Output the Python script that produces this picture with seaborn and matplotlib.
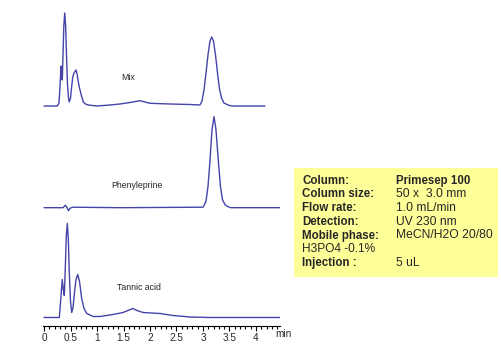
import numpy as np
import pandas as pd
import matplotlib.pyplot as plt
import seaborn as sns

# retention time (min) and detector signal
mix_time = [0.0, 0.251, 0.283, 0.302, 0.321, 0.336, 0.345, 0.358, 0.374, 0.391,
            0.408, 0.425, 0.443, 0.462, 0.477, 0.5, 0.519, 0.542, 0.566, 0.604,
            0.628, 0.647, 0.666, 0.698, 0.742, 0.783, 0.836, 0.994, 1.245, 1.434,
            1.623, 1.811, 1.906, 2.0, 2.377, 2.755, 2.943, 2.981, 3.019, 3.057,
            3.094, 3.132, 3.164, 3.198, 3.236, 3.274, 3.311, 3.349, 3.396, 3.472,
            3.547, 4.17]
mix_signal = [0, 0, 3, 20, 40, 30, 26, 50, 80, 93,
              80, 50, 22, 8, 4, 8, 18, 29, 33, 36,
              31, 24, 19, 12, 4, 2, 1, 0, 1, 2,
              3.5, 5.3, 4, 2.7, 2, 1.5, 1, 5, 16, 33,
              51, 65, 69, 65, 51, 33, 17, 8, 3, 1,
              0, 0]

phen_time = [0.0, 0.358, 0.406, 0.434, 0.462, 0.491, 0.547, 1.434, 3.0, 3.019,
             3.057, 3.094, 3.132, 3.170, 3.208, 3.245, 3.289, 3.330, 3.368, 3.415,
             3.472, 3.528, 4.453]
phen_signal = [0, 0, 2.5, 0, -3, -0.5, 0.5, 0, 0.5, 2,
               6.7, 21, 47, 78, 91, 78, 47, 21, 8, 3,
               1, 0, 0]

tannic_time = [0.0, 0.289, 0.311, 0.345, 0.364, 0.383, 0.402, 0.421, 0.440, 0.459,
               0.477, 0.5, 0.523, 0.547, 0.575, 0.604, 0.636, 0.670, 0.711, 0.755,
               0.806, 0.930, 1.057, 1.302, 1.491, 1.585, 1.674, 1.755, 1.868, 2.189,
               2.434, 2.755, 3.132, 4.453]
tannic_signal = [0, 0, 15, 38, 28, 22, 50, 82, 94, 78,
                 45, 16, 5, 10, 25, 38, 43, 36, 19, 9,
                 4, 1, 1, 3, 5, 7, 9, 7, 5, 4,
                 2, 0.5, 0, 0]

trace_names = ["Mix", "Phenyleprine", "Tannic acid"]
trace_offsets = [220, 118.3, 8.5]
label_pos = [(1.585, 248), (1.755, 140), (1.79, 38)]

tick_labels = ["0", "0.5", "1", "1.5", "2", "2.5", "3", "3.5", "4"]

info_keys = ["Column:", "Column size:", "Flow rate:", "Detection:",
             "Mobile phase:", "H3PO4 -0.1%", "Injection :"]
info_vals = ["Primesep 100", "50 x  3.0 mm", "1.0 mL/min", "UV 230 nm",
             "MeCN/H2O 20/80", "", "5 uL"]


def main():
    sns.set_style("white")
    plt.rcParams['font.family'] = ['Liberation Sans', 'DejaVu Sans']

    W, H = 501, 364
    fig = plt.figure(figsize=(W / 100, H / 100), dpi=100)
    ax = fig.add_axes([43 / W, (H - 326) / H, (280 - 43) / W, 326 / H])

    color = "#4444aa"
    traces = [(mix_time, mix_signal), (phen_time, phen_signal), (tannic_time, tannic_signal)]
    for (t, s), off, name, (lx, ly) in zip(traces, trace_offsets, trace_names, label_pos):
        df = pd.DataFrame({"time": t, "signal": np.array(s) + off})
        sns.lineplot(data=df, x="time", y="signal", ax=ax, color=color,
                     linewidth=1.0, sort=False, estimator=None)
        ax.text(lx, ly, name, ha="center", va="center", fontsize=6.3)

    ax.set_xlim(-0.019, 4.453)
    ax.set_ylim(0, 326)
    ax.set_xlabel("")
    ax.set_ylabel("")
    ax.set_yticks([])
    for side in ["top", "left", "right"]:
        ax.spines[side].set_visible(False)
    ax.spines["bottom"].set_color("black")
    ax.spines["bottom"].set_linewidth(0.8)

    ax.set_xticks(np.arange(0, 4.01, 0.5))
    ax.set_xticklabels(tick_labels)
    ax.set_xticks(np.arange(0, 4.41, 0.1), minor=True)
    ax.tick_params(axis="x", which="major", direction="out", length=3.8, width=0.8,
                   color="black", labelsize=7.2, pad=1.2, bottom=True)
    ax.tick_params(axis="x", which="minor", direction="out", length=2.0, width=0.8,
                   color="black", bottom=True)
    fig.text(283.5 / W, 1 - 334 / H, "min", ha="center", va="center", fontsize=7.2)

    # conditions box
    box = plt.Rectangle((294 / W, 1 - 277 / H), (498 - 294) / W, (277 - 168) / H,
                        transform=fig.transFigure, facecolor="#ffff99", edgecolor="none")
    fig.patches.append(box)
    row_y = [180.7, 194.4, 208.1, 221.8, 235.5, 249.2, 262.9]
    for i, (k, v) in enumerate(zip(info_keys, info_vals)):
        y = 1 - row_y[i] / H
        fig.text(302.5 / W, y, k, ha="left", va="center",
                 fontsize=8.6 if k.startswith("H3PO4") else 8.3,
                 fontweight="normal" if k.startswith("H3PO4") else "bold")
        fig.text(396 / W, y, v, ha="left", va="center",
                 fontsize=8.3 if i == 0 else 8.7,
                 fontweight="bold" if i == 0 else "normal")

    plt.savefig("out.png", dpi=100)
    plt.close()


if __name__ == "__main__":
    main()
